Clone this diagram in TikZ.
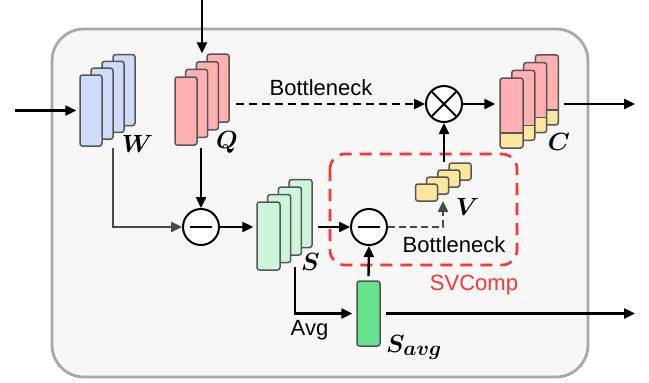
\documentclass[tikz,border=0pt]{standalone}
\usepackage{fontspec}
\setmainfont{Liberation Sans}
\usepackage{bm}
\usetikzlibrary{arrows.meta}
\definecolor{boxfill}{HTML}{F7F7F7}
\definecolor{boxline}{HTML}{A8A8A8}
\definecolor{wblue}{HTML}{CFDBF8}
\definecolor{qpink}{HTML}{FFB1B1}
\definecolor{sgreen}{HTML}{CDF5DC}
\definecolor{sagreen}{HTML}{66E28F}
\definecolor{yel}{HTML}{FCE79F}
\definecolor{edgec}{HTML}{555555}
\definecolor{darkg}{HTML}{4A4A4A}
\definecolor{svred}{HTML}{FF3333}
\newcommand\lstack[9]{%
  \foreach \i in {3,2,1,0}{%
    \node[layer, fill=#2, minimum width=#5pt, minimum height=#6pt, #9] (#1\i) at ({#3+\i*#7},{#4+\i*#8}) {};
  }}
\begin{document}
\begin{tikzpicture}[x=1pt,y=-1pt,
  layer/.style={draw=edgec, line width=1.5pt, rounded corners=2.5pt, inner sep=0pt},
  cbot/.style={path picture={
      \fill[yel] (path picture bounding box.south west) rectangle ([yshift=15pt]path picture bounding box.south east);
      \draw[edgec, line width=1.5pt] ([yshift=15pt]path picture bounding box.south west) -- ([yshift=15pt]path picture bounding box.south east);}},
  op/.style={circle, draw=black, fill=white, line width=2pt, minimum size=36pt, inner sep=0pt},
  minusop/.style={op, path picture={\draw[line width=2pt] ([xshift=-11pt]path picture bounding box.center) -- ([xshift=11pt]path picture bounding box.center);}},
  timesop/.style={op, path picture={\draw[line width=2pt] (path picture bounding box.north west) -- (path picture bounding box.south east) (path picture bounding box.north east) -- (path picture bounding box.south west);}},
  arr/.style={line width=2.4pt, -{Triangle[length=11pt,width=10pt]}},
  lbl/.style={font=\fontsize{22}{26}\selectfont, inner sep=0pt},
  mlbl/.style={font=\fontsize{29}{32}\selectfont, inner sep=0pt, anchor=base},
]
\useasboundingbox (0,0) rectangle (649,383);
% outer box
\draw[boxline, fill=boxfill, line width=2.8pt, rounded corners=32pt] (52,29) rectangle (588,377);
% SVComp box
\draw[svred, line width=2.6pt, dash pattern=on 12pt off 8pt, rounded corners=15pt] (330,154) rectangle (517,265);

% stacks
\lstack{W}{wblue}{91}{110.5}{22}{71}{11}{-6.8}{}
\lstack{Q}{qpink}{186}{111}{22}{68}{10.7}{-7.6}{}
\lstack{S}{sgreen}{268.5}{236}{23}{68}{10.7}{-7.5}{}
\lstack{V}{yel}{426.5}{192.5}{22}{17}{11.2}{-7}{}
\lstack{C}{qpink}{511.5}{113}{23}{70}{11.8}{-7.7}{cbot}
\node[layer, fill=sagreen, minimum width=23pt, minimum height=65pt] (Savg) at (368.5,313.5) {};

% operators
\node[minusop] (c1) at (201,227) {};
\node[minusop] (c2) at (369,227) {};
\node[timesop] (ox) at (444,104) {};

% free ends
\coordinate (in) at (15,110.5);
\coordinate (qin) at (202,0);
\coordinate (out1) at (635,104);
\coordinate (out2) at (635,313.5);
\coordinate (vtip) at (443,201);

% connectors
\draw[arr, shorten >=3pt] (in) -- (W0.west);
\draw[arr] (qin) -- (qin |- Q3.north);
\draw[arr, draw=darkg] ([xshift=10pt,yshift=-1pt]W0.south east) |- (c1.west);
\draw[arr] (c1 |- Q0.south) ++(0,2) -- (c1.north);
\draw[arr, shorten >=3pt] (c1.east) -- (S0.west |- c1);
\draw[arr] (S3.east |- c2) ++(5,0) -- (c2.west);
\draw[arr, draw=darkg, dash pattern=on 7pt off 4pt] (c2.east) -| (vtip);
\draw[arr] (ox |- V3.north) -- (ox.south);
\draw[arr, dash pattern=on 8pt off 5pt] (Q3.east |- ox) ++(6,0) -- (ox.west);
\draw[arr, shorten >=4pt] (ox.east) -- (C0.west |- ox);
\draw[arr] (C3.east |- ox) ++(5,0) -- (out1);
\draw[arr, shorten >=4pt] (S0.south east) ++(14,-4) |- (Savg.west);
\draw[arr] (Savg.north) ++(0,-4) -- (c2.south);
\draw[arr] (Savg.east) ++(5,0) -- (out2);

% labels
\node[lbl] (bn1) at (321,88) {Bottleneck};
\node[lbl] (bn2) at (454,245) {Bottleneck};
\node[lbl, text=svred] (svc) at (474,285) {SVComp};
\node[lbl] (avg) at (309.5,330) {Avg};
\node[mlbl] (wl) at (137.5,152) {$\bm{W}$};
\node[mlbl] (ql) at (227,148) {$\bm{Q}$};
\node[mlbl] (cl) at (559,150) {$\bm{C}$};
\node[mlbl] (sl) at (310.5,270) {$\bm{S}$};
\node[mlbl] (vl) at (467.5,215) {$\bm{V}$};
\node[mlbl, anchor=base west] (sal) at (386,352) {$\bm{S_{avg}}$};
\end{tikzpicture}
\end{document}
